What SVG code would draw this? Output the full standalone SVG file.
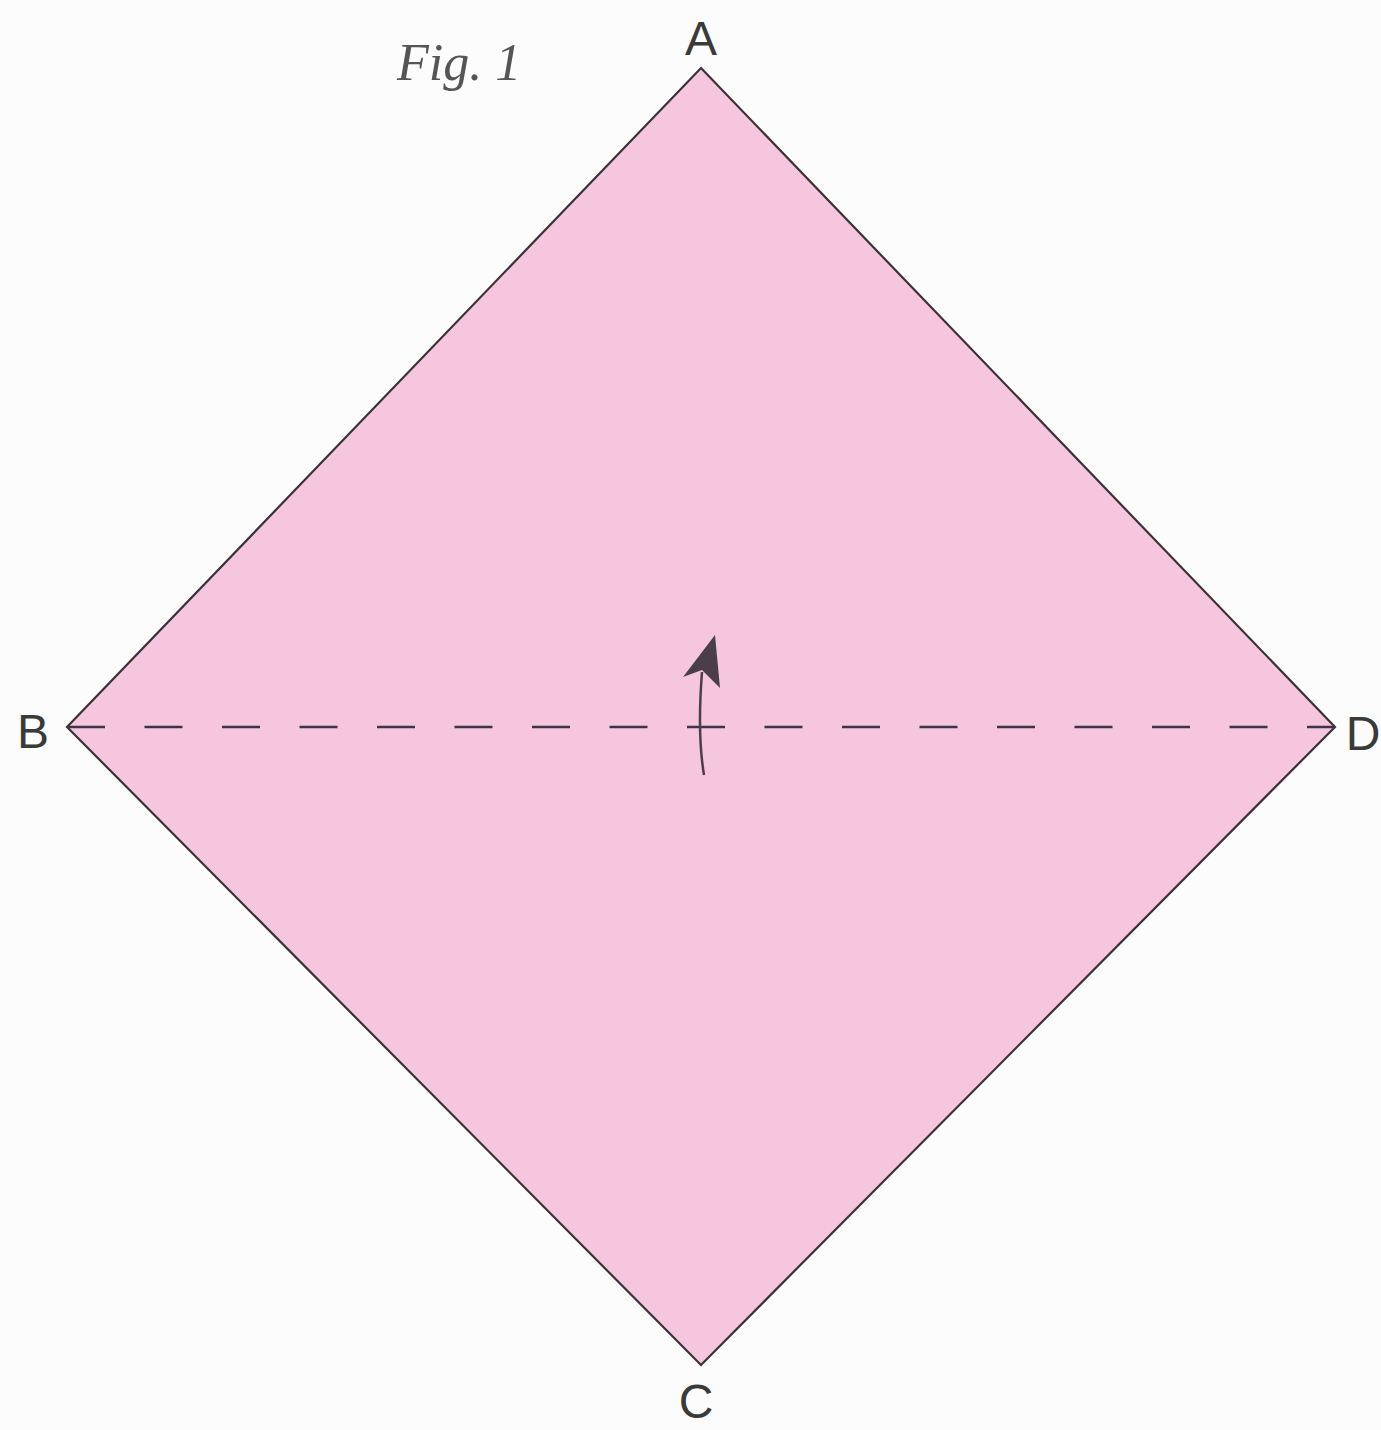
<svg xmlns="http://www.w3.org/2000/svg" width="1381" height="1430" viewBox="0 0 1381 1430">
<style>
.lbl{font-family:"Liberation Sans",Arial,sans-serif;font-size:48px;fill:#3a3a3a;text-anchor:middle}
.fig{font-family:"Liberation Serif","Times New Roman",serif;font-style:italic;font-size:52px;fill:#555}
</style>
<rect width="1381" height="1430" fill="#fcfcfc"/>
<g id="sheet">
<polygon points="701,68 1335,727 701,1365 67,727" fill="#f5c6de" stroke="#3a3238" stroke-width="2.2" stroke-linejoin="miter"/>
</g>
<g id="connectors">
<line x1="67" y1="727" x2="1335" y2="727" stroke="#3e3448" stroke-width="2.5" stroke-dasharray="38 39.5"/>
<path d="M704,775 C699,745 699,710 702,672" fill="none" stroke="#4a3f48" stroke-width="2.5"/>
<polygon points="715,635 720,688 702,670 683,677" fill="#4a3f48"/>
</g>
<g id="labels">
<text class="fig" x="397" y="80">Fig. 1</text>
<text class="lbl" x="701" y="55">A</text>
<text class="lbl" x="33" y="748">B</text>
<text class="lbl" x="1363" y="750">D</text>
<text class="lbl" x="696" y="1418">C</text>
</g>
</svg>
